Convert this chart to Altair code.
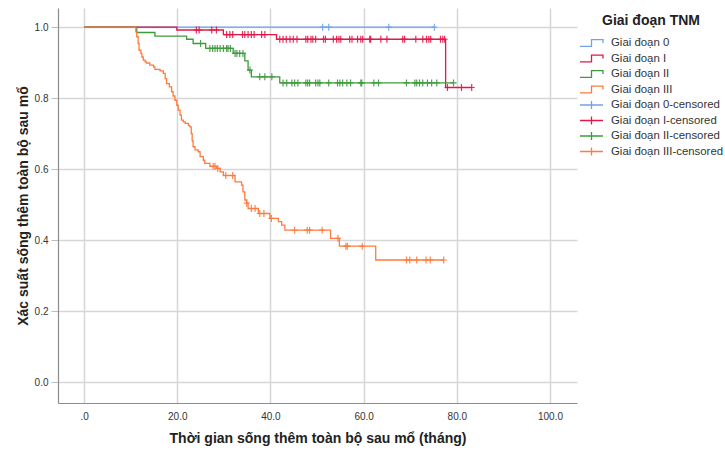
import altair as alt
import pandas as pd

STAGES = ["Giai đoạn 0", "Giai đoạn I", "Giai đoạn II", "Giai đoạn III"]
CENSORED = [s + "-censored" for s in STAGES]
COLORS = ["#72a2e6", "#e2184a", "#3d9a3d", "#ff7a3c"]

# Kaplan-Meier step curves (time of each step, survival after the step)
s0_t = [0.0, 75.2]
s0_s = [1.0, 1.0]
s0_c = [51.2, 52.5, 65.4, 75.2]

s1_t = [0.0, 19.9, 29.9, 41.3, 77.6, 83.2]
s1_s = [1.0, 0.992, 0.979, 0.966, 0.83, 0.83]
s1_c = [24.1, 24.7, 27.4, 28.4,
        30.6, 31.3, 31.9, 34.0, 34.5, 35.2, 35.9, 36.5, 38.1, 38.8,
        42.0, 42.7, 43.4, 44.2, 44.9, 45.7, 47.6, 48.0, 48.7, 49.1, 49.7,
        51.4, 51.8, 53.5, 54.2, 54.7, 55.1, 57.0, 57.5, 58.7, 59.4, 59.8,
        61.3, 61.5, 63.7, 65.0, 68.4, 68.8, 71.2, 72.7, 73.5, 74.0, 74.4,
        76.5, 77.0, 77.4, 78.0, 81.0, 83.2]

s2_t = [0.0, 11.3, 15.2, 22.0, 23.4, 26.1, 32.0, 34.5, 35.2, 35.9, 42.0, 79.3]
s2_s = [1.0, 0.985, 0.975, 0.966, 0.954, 0.94, 0.926, 0.905, 0.879, 0.86, 0.843, 0.843]
s2_c = [25.0, 27.0, 27.6, 28.1, 28.6, 29.2, 29.9, 30.6, 30.9, 31.4,
        32.4, 32.8, 33.4, 34.1, 35.6, 37.7, 38.8, 40.3,
        42.7, 43.5, 44.6, 45.2, 45.9, 47.6, 48.0, 48.4, 49.7, 50.2, 50.6,
        52.5, 54.4, 54.9, 55.5, 56.4, 57.2, 59.4, 59.6, 62.2, 63.2,
        69.2, 71.0, 71.4, 72.0, 72.7, 73.7, 74.6, 75.7, 79.3]

s3_t = [0.0, 11.1, 11.3, 11.6, 11.8, 12.2, 12.4, 12.7, 13.1, 13.4, 14.1, 14.9,
        15.2, 16.3, 17.0, 17.4, 17.7, 18.3, 18.8, 19.1, 19.5, 19.9, 20.2, 20.6,
        20.9, 21.3, 21.7, 22.4, 22.7, 23.0, 23.2, 23.4, 23.8, 24.5, 24.9, 25.6,
        25.9, 27.0, 28.4, 29.2, 29.9, 32.4, 33.8, 34.1, 34.5, 34.9, 35.2, 37.4,
        39.9, 41.7, 42.4, 43.1, 52.9, 54.8, 62.6, 77.2]
s3_s = [1.0, 0.987, 0.973, 0.954, 0.935, 0.926, 0.916, 0.907, 0.902, 0.899, 0.893, 0.888,
        0.881, 0.877, 0.870, 0.855, 0.841, 0.832, 0.818, 0.806, 0.794, 0.780, 0.766, 0.752,
        0.738, 0.733, 0.729, 0.723, 0.719, 0.70, 0.68, 0.663, 0.654, 0.649, 0.635, 0.625,
        0.616, 0.608, 0.602, 0.592, 0.582, 0.564, 0.555, 0.536, 0.513, 0.504, 0.489, 0.475,
        0.461, 0.452, 0.442, 0.428, 0.405, 0.383, 0.344, 0.344]
s3_c = [27.7, 28.1, 28.7, 30.4, 31.9, 34.9, 35.9, 36.7, 37.7, 38.6, 40.2,
        45.2, 47.9, 48.4, 51.1, 54.5, 56.2, 56.5, 59.7,
        69.2, 69.9, 71.4, 73.4, 74.3, 77.2]

CURVES = [(s0_t, s0_s, s0_c), (s1_t, s1_s, s1_c), (s2_t, s2_s, s2_c), (s3_t, s3_s, s3_c)]

STEP_PATH = "M-1,0.3H0V-0.3H1V0"
CROSS_LEGEND = "M-1,0H1M0,-0.35V0.35"
CROSS_MARK = "M0,-1V1M-0.85,0H0.85"

ALL = STAGES + CENSORED
color_scale = alt.Scale(domain=ALL, range=COLORS + COLORS)
shape_scale = alt.Scale(domain=ALL, range=[STEP_PATH] * 4 + [CROSS_LEGEND] * 4)

xs = alt.Scale(domain=[-5.6, 105.8], nice=False, zero=False)
ys = alt.Scale(domain=[-0.059, 1.054], nice=False, zero=False)

x_axis = alt.Axis(values=[0, 20, 40, 60, 80, 100],
                  labelExpr="datum.value == 0 ? '.0' : format(datum.value, '.1f')",
                  title="Thời gian sống thêm toàn bộ sau mổ (tháng)",
                  tickSize=0, labelPadding=8, titlePadding=10)
y_axis = alt.Axis(values=[0, 0.2, 0.4, 0.6, 0.8, 1.0], format=".1f",
                  title="Xác suất sống thêm toàn bộ sau mổ",
                  tickSize=7, labelPadding=3, titlePadding=4)

LEGEND_TITLE = "Giai đoạn TNM"


def level_at(ts, ss, t):
    lv = ss[0]
    for te, se in zip(ts, ss):
        if te <= t:
            lv = se
    return lv


layers = []
for name, cname, (ts, ss, cs) in zip(STAGES, CENSORED, CURVES):
    line_df = pd.DataFrame({"t": ts, "s": ss, "i": list(range(len(ts))), "series": name})
    cens_df = pd.DataFrame({"t": cs, "s": [level_at(ts, ss, c) for c in cs], "series": cname})
    line = alt.Chart(line_df).mark_line(interpolate="step-after", strokeWidth=1.3).encode(
        x=alt.X("t:Q", scale=xs, axis=x_axis),
        y=alt.Y("s:Q", scale=ys, axis=y_axis),
        order="i:Q",
        color=alt.Color("series:N", scale=color_scale, title=LEGEND_TITLE),
    )
    cens = alt.Chart(cens_df).mark_point(shape=CROSS_MARK, size=49, strokeWidth=1.2, opacity=0.9).encode(
        x=alt.X("t:Q", scale=xs, axis=x_axis),
        y=alt.Y("s:Q", scale=ys, axis=y_axis),
        color=alt.Color("series:N", scale=color_scale, title=LEGEND_TITLE),
    )
    layers += [line, cens]

# legend carrier (off-canvas, clipped)
leg_df = pd.DataFrame({"t": [-1000.0] * len(ALL), "s": [-1000.0] * len(ALL), "series": ALL})
legend_layer = alt.Chart(leg_df).mark_point(clip=True, filled=False).encode(
    x=alt.X("t:Q", scale=xs, axis=x_axis),
    y=alt.Y("s:Q", scale=ys, axis=y_axis),
    color=alt.Color("series:N", scale=color_scale, title=LEGEND_TITLE),
    shape=alt.Shape("series:N", scale=shape_scale, title=LEGEND_TITLE),
)

chart = alt.layer(legend_layer, *layers).properties(
    width=519, height=395,
    autosize=alt.AutoSizeParams(type="none"),
    padding={"left": 58, "top": 8, "right": 148, "bottom": 48},
).configure_view(stroke=None).configure_axis(
    labelFont="Liberation Sans", labelFontSize=10, labelColor="#333333",
    titleFont="Liberation Sans", titleFontSize=14, titleFontWeight="bold", titleColor="#222222",
    gridColor="#d6d6d6", gridWidth=1.5, domainColor="#8c8c8c", domainWidth=1.2,
    tickColor="#bdbdbd",
).configure_legend(
    orient="none", legendX=521, legendY=6,
    titleFont="Liberation Sans", titleFontSize=14, titleFontWeight="bold", titleColor="#222222",
    titleAnchor="middle", titlePadding=9,
    labelFont="Liberation Sans", labelFontSize=11.4, labelColor="#333333", labelOffset=7,
    symbolSize=529, symbolStrokeWidth=1.3, clipHeight=12, rowPadding=3.5,
    symbolFillColor="transparent", symbolOpacity=1,
)

chart.save("out.html", embed_options={"renderer": "svg", "actions": False})
